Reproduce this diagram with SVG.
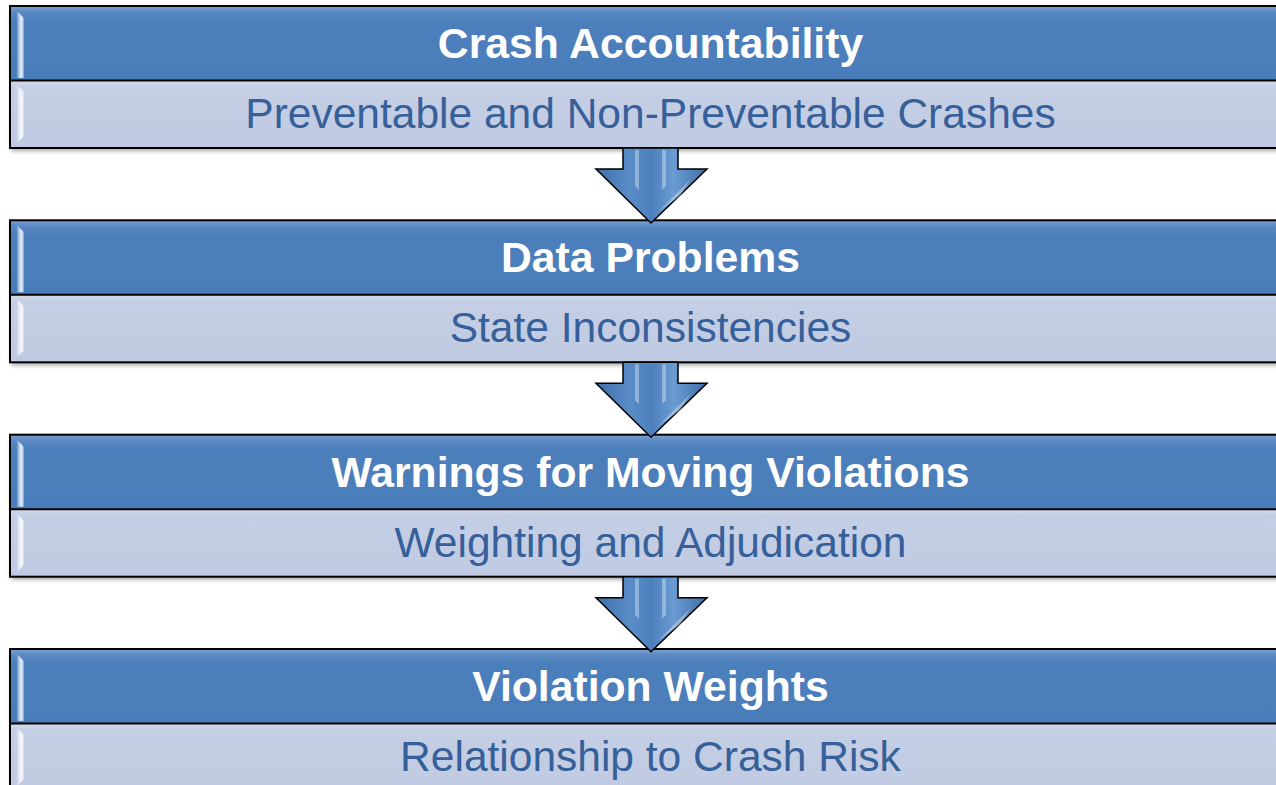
<svg xmlns="http://www.w3.org/2000/svg" width="1276" height="785" viewBox="0 0 1276 785">
<defs>
<linearGradient id="hdr" x1="0" y1="0" x2="0" y2="1">
<stop offset="0" stop-color="#7FA3D2"/><stop offset="0.08" stop-color="#5A89C3"/><stop offset="0.2" stop-color="#4C7FBB"/><stop offset="1" stop-color="#4A7DB9"/>
</linearGradient>
<linearGradient id="sub" x1="0" y1="0" x2="0" y2="1">
<stop offset="0" stop-color="#D4DCEC"/><stop offset="0.1" stop-color="#C4CEE4"/><stop offset="1" stop-color="#C0CAE2"/>
</linearGradient>
<linearGradient id="bev" x1="0" y1="0" x2="1" y2="0">
<stop offset="0" stop-color="#FFFFFF" stop-opacity="0.2"/><stop offset="0.6" stop-color="#FFFFFF" stop-opacity="0.9"/><stop offset="1" stop-color="#FFFFFF" stop-opacity="0.3"/>
</linearGradient>
<linearGradient id="arr" x1="0" y1="0" x2="1" y2="0">
<stop offset="0" stop-color="#3F6FA8"/><stop offset="0.3" stop-color="#5A8DC8"/><stop offset="0.5" stop-color="#4C80BD"/><stop offset="0.7" stop-color="#6A9BD2"/><stop offset="1" stop-color="#3E6DA6"/>
</linearGradient>
<filter id="sh" x="-5%" y="-10%" width="110%" height="130%">
<feGaussianBlur in="SourceAlpha" stdDeviation="2"/><feOffset dx="1" dy="3"/>
<feComponentTransfer><feFuncA type="linear" slope="0.35"/></feComponentTransfer>
<feMerge><feMergeNode/><feMergeNode in="SourceGraphic"/></feMerge>
</filter>
<g id="box">
<g filter="url(#sh)">
<rect x="10" y="6" width="1280" height="74.5" fill="url(#hdr)"/>
<rect x="10" y="80.5" width="1280" height="67.5" fill="url(#sub)"/>
</g>
<path d="M17,11 L24,18 L24,78 L17,78 Z" fill="url(#bev)"/>
<path d="M17,85 L24,92 L24,136 L17,143 Z" fill="url(#bev)"/>
<rect x="10" y="6" width="1280" height="142" fill="none" stroke="#000" stroke-width="2"/>
<line x1="10" y1="80.5" x2="1290" y2="80.5" stroke="#000" stroke-width="2"/>
</g>
<path id="arrow" d="M623,148 L678,148 L678,169 L707,169 L651,223 L596,169 L623,169 Z"/>
</defs>
<style>
.h{font-family:"Liberation Sans",Arial,sans-serif;font-weight:bold;font-size:42.7px;fill:#FFFFFF;text-anchor:middle}
.s{font-family:"Liberation Sans",Arial,sans-serif;font-size:42.5px;fill:#35609A;text-anchor:middle}
.ar{fill:url(#arr);stroke:#000;stroke-width:1.5;stroke-linejoin:miter}
.gl{fill:#FFFFFF;opacity:0.35}
</style>
<rect width="1276" height="785" fill="#FFFFFF"/>
<g id="node1">
<use href="#box"/>
<text class="h" x="650.5" y="58">Crash Accountability</text>
<text class="s" x="650.5" y="128">Preventable and Non-Preventable Crashes</text>
</g>
<g id="node2" transform="translate(0,214.3)">
<use href="#box"/>
<text class="h" x="650.5" y="58">Data Problems</text>
<text class="s" x="650.5" y="128">State Inconsistencies</text>
</g>
<g id="node3" transform="translate(0,428.7)">
<use href="#box"/>
<text class="h" x="650.5" y="58">Warnings for Moving Violations</text>
<text class="s" x="650.5" y="128">Weighting and Adjudication</text>
</g>
<g id="node4" transform="translate(0,643)">
<use href="#box"/>
<text class="h" x="650.5" y="58">Violation Weights</text>
<text class="s" x="650.5" y="128">Relationship to Crash Risk</text>
</g>
<g id="connectors">
<g>
<use href="#arrow" class="ar"/>
<path d="M635,150 L639,150 L639,190 L635,186 Z" class="gl"/>
<path d="M662,150 L666,150 L666,186 L662,190 Z" class="gl"/>
<path d="M658,212 L690,180 L680,196 Z" class="gl"/>
</g>
<g transform="translate(0,214.3)">
<use href="#arrow" class="ar"/>
<path d="M635,150 L639,150 L639,190 L635,186 Z" class="gl"/>
<path d="M662,150 L666,150 L666,186 L662,190 Z" class="gl"/>
<path d="M658,212 L690,180 L680,196 Z" class="gl"/>
</g>
<g transform="translate(0,428.7)">
<use href="#arrow" class="ar"/>
<path d="M635,150 L639,150 L639,190 L635,186 Z" class="gl"/>
<path d="M662,150 L666,150 L666,186 L662,190 Z" class="gl"/>
<path d="M658,212 L690,180 L680,196 Z" class="gl"/>
</g>
</g>
</svg>
